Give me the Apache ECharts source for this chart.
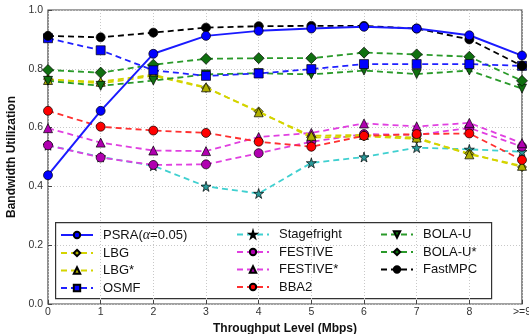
<!DOCTYPE html>
<html><head><meta charset="utf-8">
<script src="https://cdn.jsdelivr.net/npm/echarts@6/dist/echarts.min.js"></script>
<style>html,body{margin:0;padding:0;background:#fff}#c{width:529px;height:334px}</style>
</head><body><div id="c"></div>
<script>
const categories = ['0','1','2','3','4','5','6','7','8','>=9'];
const yTicks = [0,0.2,0.4,0.6,0.8,1.0];
const psra      = [0.438,0.657,0.851,0.912,0.929,0.937,0.943,0.937,0.914,0.845];
const lbg       = [0.765,0.750,0.776,0.735,0.655,0.566,0.570,0.562,0.512,0.466];
const lbgStar   = [0.762,0.756,0.780,0.737,0.652,0.572,0.575,0.566,0.509,0.470];
const osmf      = [0.904,0.863,0.795,0.776,0.784,0.799,0.816,0.816,0.816,0.810];
const stagefright=[0.540,0.500,0.470,0.400,0.376,0.480,0.500,0.532,0.526,0.518];
const festive   = [0.540,0.498,0.473,0.475,0.513,0.552,0.578,0.575,0.599,0.535];
const festiveStar=[0.598,0.549,0.522,0.520,0.568,0.582,0.614,0.604,0.616,0.547];
const bba2      = [0.657,0.603,0.590,0.582,0.552,0.535,0.572,0.578,0.580,0.490];
const bolaU     = [0.759,0.742,0.760,0.781,0.785,0.781,0.794,0.782,0.794,0.733];
const bolaUStar = [0.796,0.787,0.814,0.834,0.836,0.836,0.855,0.849,0.841,0.759];
const fastMPC   = [0.912,0.907,0.923,0.940,0.945,0.946,0.946,0.937,0.900,0.810];

const STAR = 'path://M50,0 L61,35 L98,35 L68,57 L79,91 L50,70 L21,91 L32,57 L2,35 L39,35 Z';
const DOWN = 'path://M0,0 L10,0 L5,10 Z';
function s(name, data, lineColor, fill, symbol, size, dashed) {
  return {
    name, type: 'line', data, symbol, symbolSize: size,
    lineStyle: { color: lineColor, width: dashed ? 1.8 : 2, type: dashed ? [6,4] : 'solid' },
    itemStyle: { color: fill, borderColor: '#000', borderWidth: 0.7 },
    emphasis: { disabled: true }, animation: false
  };
}
const series = [
  s('Stagefright', stagefright, '#40d0d0', '#2a9a9a', STAR, 10, true),
  s('FESTIVE', festive, '#e040e0', '#b000b0', 'circle', 9, true),
  s('FESTIVE*', festiveStar, '#e040e0', '#b000b0', 'triangle', 9, true),
  s('LBG', lbg, '#d4d400', '#b0b000', 'diamond', 9, true),
  s('LBG*', lbgStar, '#d4d400', '#b0b000', 'triangle', 9, true),
  s('BBA2', bba2, '#ff3030', '#ff0000', 'circle', 9, true),
  s('BOLA-U', bolaU, '#2a9a2a', '#107010', DOWN, 9, true),
  s('BOLA-U*', bolaUStar, '#2a9a2a', '#107010', 'diamond', 11, true),
  s('OSMF', osmf, '#2020ff', '#0000ff', 'rect', 9, true),
  s('FastMPC', fastMPC, '#000000', '#000000', 'circle', 9, true),
  s('PSRA(α=0.05)', psra, '#1a1aff', '#0000ff', 'circle', 9, false)
];
function legend(names, left) {
  return {
    data: names, orient: 'vertical', left, top: 228, padding: 0,
    itemWidth: 32, itemHeight: 8, itemGap: 4.5,
    textStyle: { fontFamily: 'Liberation Sans', fontSize: 13, lineHeight: 12.5, color: '#111', padding: [0,0,0,5],
      rich: { a: { fontStyle: 'italic', fontFamily: 'Liberation Serif', fontSize: 14, lineHeight: 12.5, color: '#111' } } },
    formatter: n => n === 'PSRA(α=0.05)' ? 'PSRA({a|α}=0.05)' : n,
    selectedMode: false
  };
}
const chart = echarts.init(document.getElementById('c'), null, { renderer: 'canvas' });
chart.setOption({
  animation: false,
  backgroundColor: '#fff',
  grid: { left: 48, right: 7, top: 10, bottom: 30, outerBoundsMode: 'none', containLabel: false,
    show: true, borderColor: '#444', borderWidth: 1.2, backgroundColor: 'transparent' },
  xAxis: {
    type: 'category', data: categories, boundaryGap: false,
    name: 'Throughput Level (Mbps)', nameLocation: 'middle', nameGap: 6,
    nameTextStyle: { fontFamily: 'Liberation Sans', fontWeight: 'bold', fontSize: 12, color: '#111' },
    axisLine: { show: false }, axisTick: { show: true, inside: true, length: 4, lineStyle: { color: '#444' } },
    axisLabel: { fontFamily: 'Liberation Sans', fontSize: 10.5, color: '#333', margin: 3, showMaxLabel: true },
    splitLine: { show: true, lineStyle: { color: '#c8c8c8', type: [1,2] } }
  },
  yAxis: {
    type: 'value', min: 0, max: 1, interval: 0.2,
    name: 'Bandwidth Utilization', nameLocation: 'middle', nameGap: 26,
    nameTextStyle: { fontFamily: 'Liberation Sans', fontWeight: 'bold', fontSize: 12, color: '#111' },
    axisLine: { show: false }, axisTick: { show: true, inside: true, length: 4, lineStyle: { color: '#444' } },
    axisLabel: { fontFamily: 'Liberation Sans', fontSize: 10.5, color: '#333', margin: 5,
      formatter: v => yTicks.some(t => Math.abs(t - v) < 1e-9) ? v.toFixed(1) : '' },
    splitLine: { show: true, lineStyle: { color: '#c8c8c8', type: [1,2] } }
  },
  legend: [
    legend(['PSRA(α=0.05)','LBG','LBG*','OSMF'], 60),
    legend(['Stagefright','FESTIVE','FESTIVE*','BBA2'], 236),
    legend(['BOLA-U','BOLA-U*','FastMPC'], 380)
  ],
  graphic: [{ type: 'rect', left: 55, top: 222, shape: { width: 436, height: 76 },
    style: { fill: '#fff', stroke: '#333', lineWidth: 1.2 }, z: 0, zlevel: 0 }],
  series
});
</script></body></html>
